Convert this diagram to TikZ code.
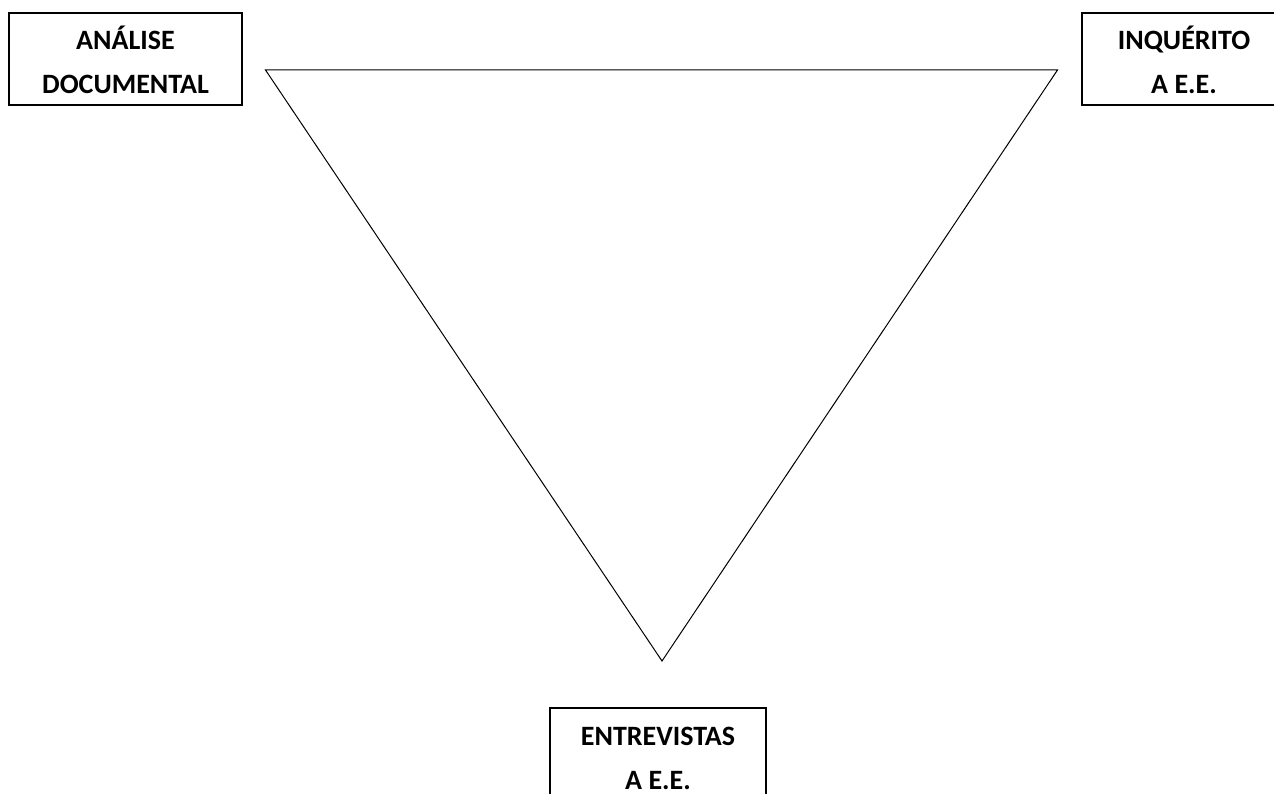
\documentclass[tikz,border=0pt]{standalone}
\usepackage{fontspec}
\setmainfont{Carlito}
\usetikzlibrary{positioning}

\begin{document}
\begin{tikzpicture}[x=1pt, y=-1pt,
  box/.style={draw, line width=1.7pt, inner sep=0pt, minimum height=92pt},
  lbl/.style={align=center, inner sep=0pt, font=\fontsize{28}{44}\selectfont\bfseries}]
\useasboundingbox (0,0) rectangle (1274,794);

\node[box, minimum width=233pt] at (125.5,59) (analise) {};
\node[box, minimum width=204pt] at (1184,59) (inquerito) {};
\node[box, minimum width=216pt] at (658,754) (entrevistas) {};

% last line of each text sits on the base anchor
\node[lbl, anchor=base] at ([yshift=-81pt]analise.north) (analisetxt) {ANÁLISE\\DOCUMENTAL};
\node[lbl, anchor=base] at ([yshift=-81pt]inquerito.north) (inqueritotxt) {INQUÉRITO\\A E.E.};
\node[lbl, anchor=base] at ([yshift=-82pt]entrevistas.north) (entrevistastxt) {ENTREVISTAS\\A E.E.};

\coordinate (tl) at (265.5,70);
\coordinate (tr) at (1057.5,70);
\coordinate (bt) at (662,661);
\draw[line width=1pt, line join=miter] (tl) -- (tr) -- (bt) -- cycle;
\end{tikzpicture}
\end{document}
